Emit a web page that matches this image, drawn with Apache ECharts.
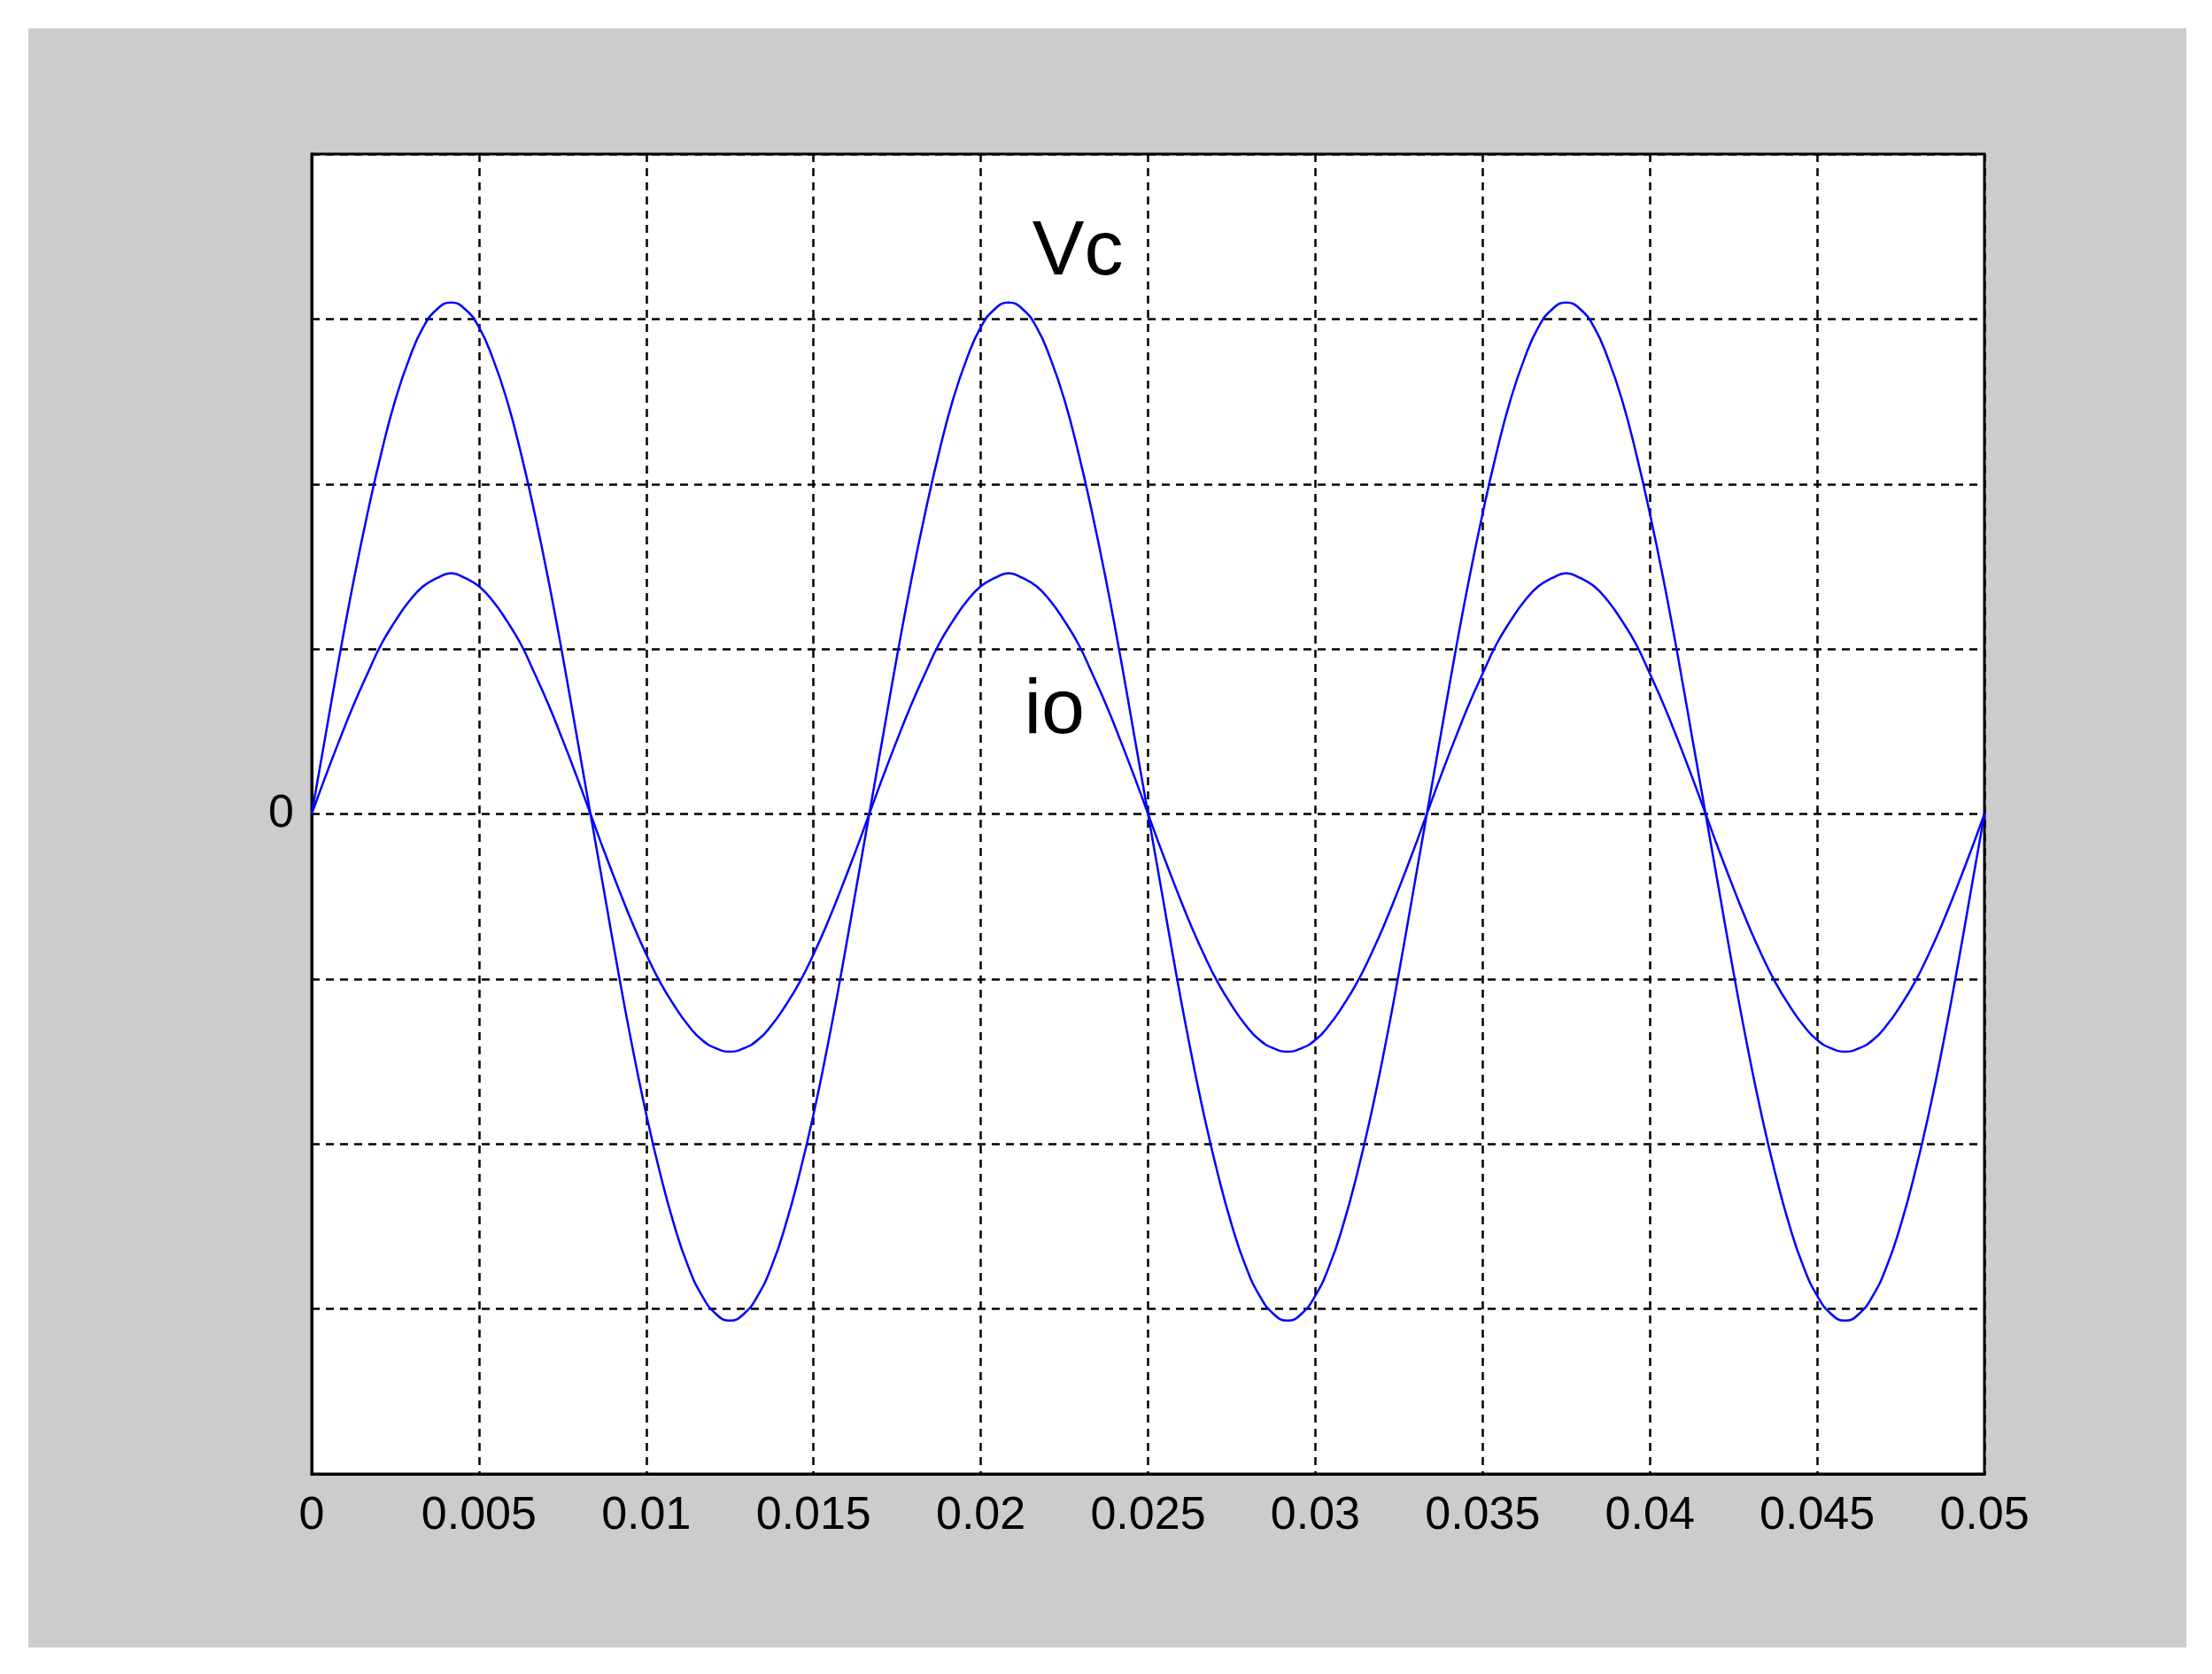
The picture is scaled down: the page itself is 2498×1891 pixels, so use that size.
<!DOCTYPE html><html><head><meta charset="utf-8">
<script src="https://cdn.jsdelivr.net/npm/echarts@6/dist/echarts.min.js"></script>
<style>html,body{margin:0;background:#fff}#c{width:2498px;height:1891px}</style></head><body><div id="c"></div>
<script>
const xTicks=['0','0.005','0.01','0.015','0.02','0.025','0.03','0.035','0.04','0.045','0.05'];
const tStep=0.05/120;
const vcCycle=[0,0.48,0.96,1.41,1.82,2.19,2.51,2.76,2.95,3.06,3.1,3.06,2.95,2.76,2.51,2.19,1.82,1.41,0.96,0.48,
0,-0.48,-0.96,-1.41,-1.82,-2.18,-2.49,-2.74,-2.92,-3.03,-3.07,-3.03,-2.92,-2.74,-2.49,-2.18,-1.82,-1.41,-0.96,-0.48];
const ioCycle=[0,0.23,0.45,0.66,0.85,1.03,1.17,1.29,1.38,1.43,1.46,1.43,1.38,1.29,1.17,1.03,0.85,0.66,0.45,0.23,
0,-0.23,-0.45,-0.66,-0.85,-1.02,-1.16,-1.28,-1.37,-1.42,-1.44,-1.42,-1.37,-1.28,-1.16,-1.02,-0.85,-0.66,-0.45,-0.23];
const vc=[...vcCycle,...vcCycle,...vcCycle,0];
const io=[...ioCycle,...ioCycle,...ioCycle,0];
const toPts=a=>a.map((v,i)=>[i*tStep,v]);
const ch=echarts.init(document.getElementById('c'));
const F='Liberation Sans';
const bg={type:'rect',z:-10,shape:{x:32,y:32,width:2437,height:1829},style:{fill:'#cccccc'}};
ch.setOption({animation:false,
graphic:[bg],
grid:{left:352,top:174,width:1889,height:1491,backgroundColor:'#fff',show:true,borderColor:'#000',borderWidth:3},
xAxis:{type:'value',min:0,max:0.05,interval:0.005,axisLine:{onZero:false,lineStyle:{color:'#000',width:3}},axisTick:{show:false},
 splitLine:{lineStyle:{color:'#000',type:[9,7],width:2.5}},
 axisLabel:{fontFamily:F,fontSize:52,color:'#000',margin:22,formatter:v=>xTicks[Math.round(v/0.005)]}},
yAxis:{type:'value',min:-4,max:4,interval:1,axisLine:{onZero:false,lineStyle:{color:'#000',width:3}},axisTick:{show:false},
 splitLine:{lineStyle:{color:'#000',type:[9,7],width:2.5}},
 axisLabel:{fontFamily:F,fontSize:52,color:'#000',margin:20,formatter:v=>v===0?'0':''}},
series:[{type:'line',data:toPts(vc),smooth:0.5,showSymbol:false,lineStyle:{color:'#0000ff',width:2.5}},
{type:'line',data:toPts(io),smooth:0.5,showSymbol:false,lineStyle:{color:'#0000ff',width:2.5}}]});
const p1=ch.convertToPixel({gridIndex:0},[0.0229,3.4]);
const p2=ch.convertToPixel({gridIndex:0},[0.0222,0.62]);
ch.setOption({graphic:[bg,
{type:'text',x:p1[0],y:p1[1],style:{text:'Vc',font:'88px "Liberation Sans"',fill:'#000',align:'center',verticalAlign:'middle'}},
{type:'text',x:p2[0],y:p2[1],style:{text:'io',font:'88px "Liberation Sans"',fill:'#000',align:'center',verticalAlign:'middle'}}]});
</script></body></html>
